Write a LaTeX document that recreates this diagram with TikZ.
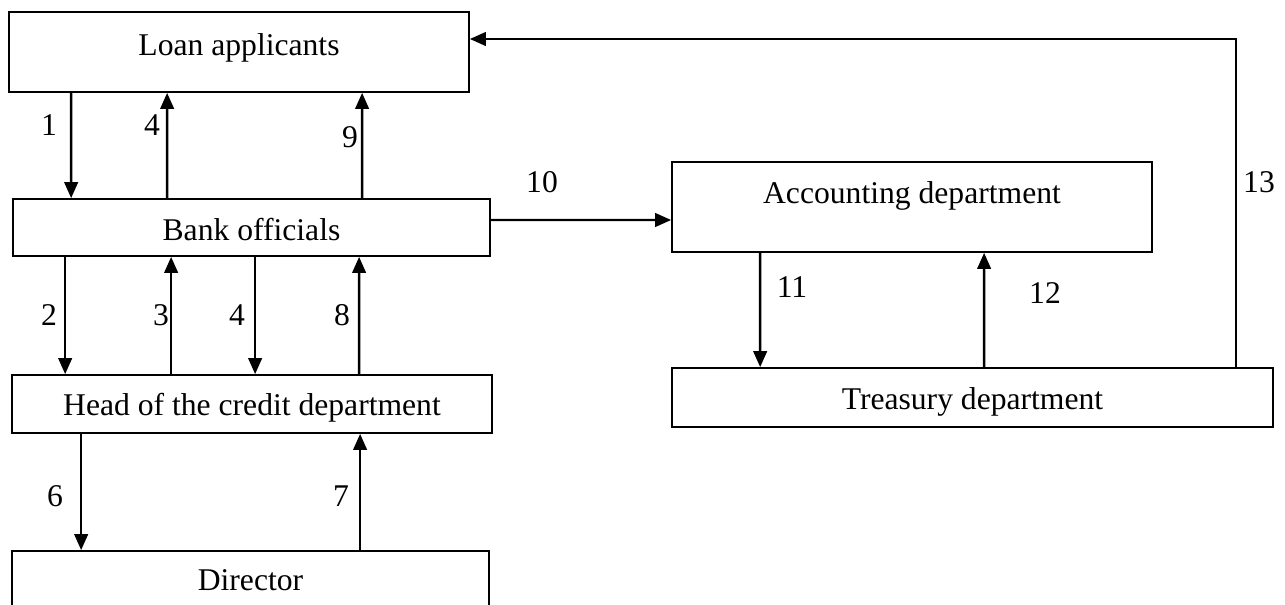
\documentclass[tikz,border=0pt]{standalone}
\usepackage{fontspec}
\setmainfont{Liberation Serif}
\usetikzlibrary{arrows.meta}

\begin{document}
\begin{tikzpicture}[
    x=0.02cm, y=-0.02cm,
    box/.style={rectangle, draw, line width=1pt, inner sep=0pt, align=center, font=\fontsize{18}{22}\selectfont},
    arrow/.style={-{Triangle[length=0.32cm,width=0.27cm]}, line width=1.4pt},
    num/.style={font=\fontsize{18}{22}\selectfont}
]
\useasboundingbox (0,0) rectangle (1285,605);

% Left column
\node[box, minimum width=9.2cm, minimum height=1.6cm, text depth=0.3cm] (loan) at (239,52) {Loan applicants};
\node[box, minimum width=9.54cm, minimum height=1.14cm, text height=0.52cm] (bank) at (251.5,227.5) {Bank officials};
\node[box, minimum width=9.6cm, minimum height=1.16cm, text height=0.58cm] (head) at (252,404) {Head of the credit department};
\node[box, minimum width=9.54cm, minimum height=1.16cm] (director) at (250.5,580) {Director};

% Right side
\node[box, minimum width=9.6cm, minimum height=1.8cm, text depth=0.58cm] (acc) at (912,207) {Accounting department};
\node[box, minimum width=12.02cm, minimum height=1.18cm, text height=0.6cm] (treasury) at (972.5,397.5) {Treasury department};

% Loan applicants <-> Bank officials
\draw[arrow] ([xshift=1.26cm]loan.south west) -- ([xshift=1.18cm]bank.north west);
\draw[arrow] ([xshift=3.10cm]bank.north west) -- ([xshift=3.18cm]loan.south west);
\draw[arrow] ([xshift=7.00cm]bank.north west) -- ([xshift=7.08cm]loan.south west);
\node[num] (n1) at (49,125) {1};
\node[num] (n4a) at (152,125) {4};
\node[num] (n9) at (350,137) {9};

% Bank officials <-> Head of the credit department
\draw[arrow] ([xshift=1.06cm]bank.south west) -- ([xshift=1.08cm]head.north west);
\draw[arrow] ([xshift=3.20cm]head.north west) -- ([xshift=3.18cm]bank.south west);
\draw[arrow] ([xshift=4.86cm]bank.south west) -- ([xshift=4.88cm]head.north west);
\draw[arrow] ([xshift=6.96cm]head.north west) -- ([xshift=6.94cm]bank.south west);
\node[num] (n2) at (49,315) {2};
\node[num] (n3) at (161,315) {3};
\node[num] (n4b) at (237,315) {4};
\node[num] (n8) at (342,315) {8};

% Head of the credit department <-> Director
\draw[arrow] ([xshift=1.40cm]head.south west) -- ([xshift=1.40cm]director.north west);
\draw[arrow] ([xshift=6.98cm]director.north west) -- ([xshift=6.98cm]head.south west);
\node[num] (n6) at (55,496) {6};
\node[num] (n7) at (341,496) {7};

% Bank officials -> Accounting, Accounting <-> Treasury, Treasury -> Loan applicants
\draw[arrow] ([yshift=0.15cm]bank.east) -- ([yshift=-0.26cm]acc.west);
\node[num] (n10) at (542,182) {10};
\draw[arrow] ([xshift=1.78cm]acc.south west) -- ([xshift=1.78cm]treasury.north west);
\draw[arrow] ([xshift=6.26cm]treasury.north west) -- ([xshift=6.26cm]acc.south west);
\node[num] (n11) at (792,287) {11};
\node[num] (n12) at (1045,293) {12};
\draw[arrow] ([xshift=11.3cm]treasury.north west) |- ([yshift=0.26cm]loan.east);
\node[num] (n13) at (1259,182) {13};

\end{tikzpicture}
\end{document}
